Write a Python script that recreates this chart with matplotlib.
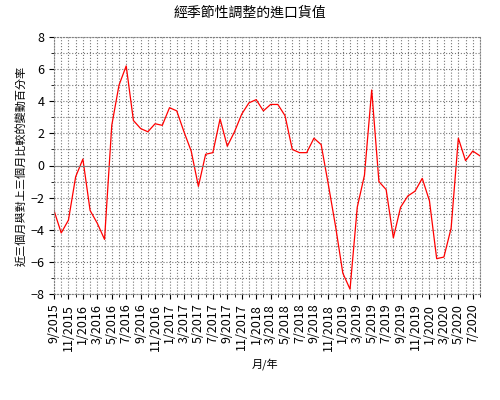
import numpy as np
import matplotlib
matplotlib.use("Agg")
import matplotlib.pyplot as plt

plt.rcParams['font.family'] = ['Noto Sans CJK TC', 'DejaVu Sans']

values = [-2.8, -4.2, -3.4, -0.7, 0.4, -2.8, -3.6, -4.6, 2.5, 5.0,
          6.2, 2.8, 2.3, 2.1, 2.6, 2.5, 3.6, 3.4, 2.1, 0.9,
          -1.3, 0.7, 0.8, 2.9, 1.2, 2.1, 3.2, 3.9, 4.1, 3.4,
          3.8, 3.8, 3.1, 1.0, 0.8, 0.8, 1.7, 1.3, -1.2, -3.8,
          -6.7, -7.7, -2.6, -0.6, 4.7, -1.0, -1.5, -4.5, -2.6, -1.9,
          -1.6, -0.8, -2.2, -5.8, -5.7, -3.9, 1.7, 0.3, 0.9, 0.6]
months = []
for i in range(len(values)):
    m = (9 + i - 1) % 12 + 1
    y = 2015 + (9 + i - 1) // 12
    months.append(f"{m}/{y}")

fig = plt.figure(figsize=(5, 4), dpi=100)
ax = fig.add_axes([0.108, 0.265, 0.852, 0.6425])
x = np.arange(len(values))
ax.plot(x, values, color="red", lw=0.9)
ax.set_xlim(0, len(values) - 1)
ax.set_ylim(-8, 8)
ax.set_xticks(x[::2])
ax.set_xticklabels(months[::2], rotation=90, fontsize=9)
ax.set_xticks(x, minor=True)
ax.set_yticks(range(-8, 9, 2))
ax.set_yticks(range(-8, 9), minor=True)
ax.tick_params(axis='y', labelsize=9)
ax.grid(which='both', color='#777777', linestyle=':', lw=0.8)
ax.axhline(0, color='gray', lw=0.8)
for s in ax.spines.values():
    s.set_color('gray')
    s.set_linestyle(':')
fig.suptitle("經季節性調整的進口貨值", y=0.985, fontsize=10)
ax.set_ylabel("近三個月與對上三個月比較的變動百分率", fontsize=8, labelpad=2)
fig.text(0.53, 0.08, "月/年", ha='center', fontsize=8)
fig.savefig("out.png")
